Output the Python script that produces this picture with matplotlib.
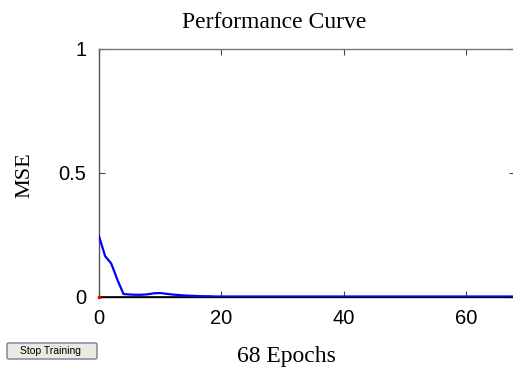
import matplotlib

matplotlib.use("Agg")
import matplotlib.pyplot as plt
from matplotlib.patches import FancyBboxPatch

# MSE per epoch (epochs 0..68)
epochs = list(range(69))
mse = [
    0.245, 0.165, 0.135, 0.070, 0.012, 0.010, 0.009, 0.009, 0.011, 0.015,
    0.016, 0.013, 0.010, 0.008, 0.006, 0.005, 0.004, 0.003, 0.003, 0.002,
    0.002, 0.002, 0.002, 0.002, 0.002, 0.002, 0.002, 0.002, 0.002, 0.002,
    0.002, 0.002, 0.002, 0.002, 0.002, 0.002, 0.002, 0.002, 0.002, 0.002,
    0.002, 0.002, 0.002, 0.002, 0.002, 0.002, 0.002, 0.002, 0.002, 0.002,
    0.002, 0.002, 0.002, 0.002, 0.002, 0.002, 0.002, 0.002, 0.002, 0.002,
    0.002, 0.002, 0.002, 0.002, 0.002, 0.002, 0.002, 0.002, 0.002,
]
x_ticks = [0, 20, 40, 60]
y_ticks = [0, 0.5, 1]
y_tick_labels = ["0", "0.5", "1"]

W, H = 513, 369
fig = plt.figure(figsize=(W / 100, H / 100), dpi=100)
ax = fig.add_axes([99 / W, (H - 297) / H, (515 - 99) / W, (297 - 49) / H])

ax.plot(epochs, mse, color="#0000ff", lw=1.6, zorder=3)
ax.axhline(0, color="black", lw=1.2, zorder=2)
ax.plot([0], [0], marker="s", ms=2, color="red", zorder=4, clip_on=False)

ax.set_xlim(0, 68)
ax.set_ylim(0, 1)
ax.set_xticks(x_ticks)
ax.set_yticks(y_ticks)
ax.set_yticklabels(y_tick_labels)
ax.tick_params(direction="in", length=4, width=0.8, color="#444444",
               top=True, right=True, labelsize=14.5, pad=9)
for lab in ax.get_xticklabels() + ax.get_yticklabels():
    lab.set_family("Liberation Sans")
ax.spines["left"].set_color("#555555")
ax.spines["top"].set_color("#777777")
ax.spines["bottom"].set_color("black")
ax.spines["right"].set_color("#777777")
for s in ax.spines.values():
    s.set_linewidth(1.0)

serif = "Liberation Serif"
fig.text(274 / W, 1 - 22 / H, "Performance Curve", family=serif, fontsize=17,
         ha="center", va="center")
fig.text(286 / W, 1 - 362 / H, "68 Epochs", family=serif, fontsize=17,
         ha="center", va="baseline")
fig.text(25 / W, 1 - 175 / H, "MSE", family=serif, fontsize=16,
         rotation=90, ha="center", va="center")

# the "Stop Training" button from the GUI window
btn = FancyBboxPatch((7 / W, 1 - 359 / H), 90 / W, 16 / H,
                     boxstyle="round,pad=0,rounding_size=0.004",
                     transform=fig.transFigure, facecolor="#ece9e0",
                     edgecolor="#6d7f9c", lw=1.0)
fig.patches.append(btn)
fig.text(51 / W, 1 - 350.5 / H, "Stop Training", family="Liberation Sans",
         fontsize=7.5, ha="center", va="center")

fig.savefig("out.png", dpi=100)
